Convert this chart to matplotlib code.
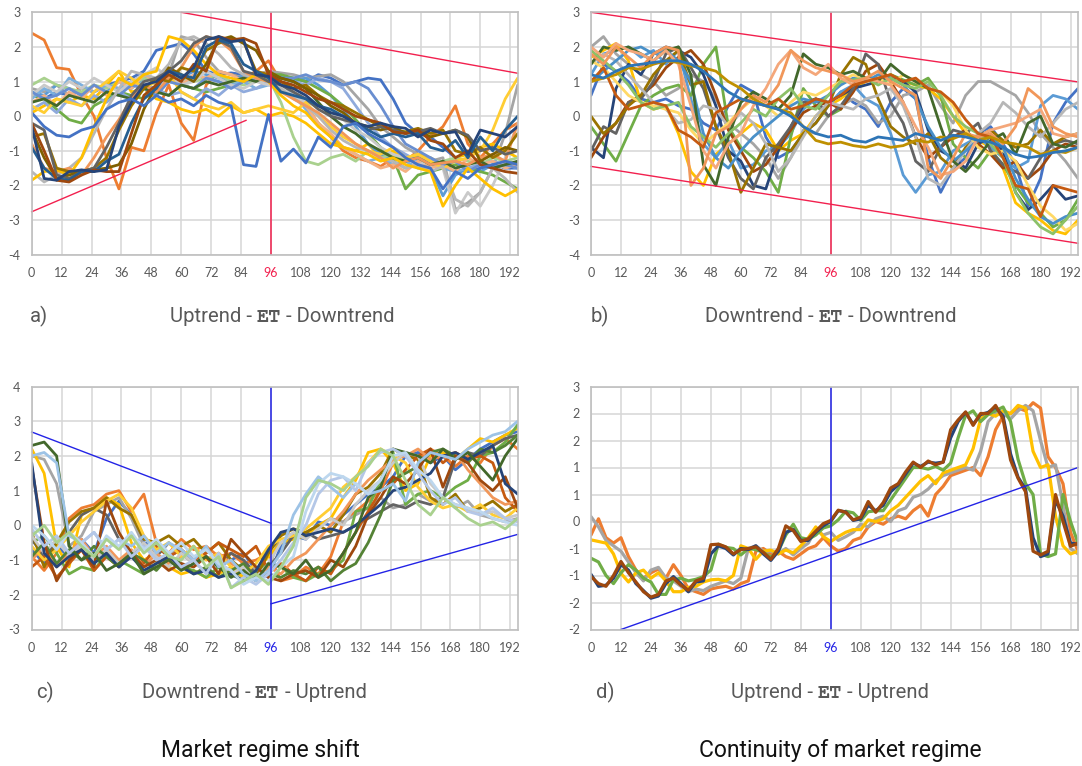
import numpy as np
import matplotlib
matplotlib.use("Agg")
import matplotlib.pyplot as plt
from matplotlib.offsetbox import TextArea, HPacker, AnnotationBbox
from matplotlib.ticker import FixedLocator, FixedFormatter

# ---------------------------------------------------------------
# Sample spacing (in 5-minute bars) of the stored paths
# ---------------------------------------------------------------
STEP_ABC = 5
STEP_D = 3
X_TICKS = list(range(0, 193, 12))
ET_BAR = 96

# ---------------------------------------------------------------
# a) Uptrend - ET - Downtrend
# ---------------------------------------------------------------
a_dkblue = [-0.3,-1.8,-1.85,-1.6,-1.55,-1.6,-1.55,-0.3,0.4,0.9, 1.0,1.3,1.1,1.4,2.2,2.3,2.15,2.2,1.2,1.15,
            0.9,0.8,0.6,0.3,0.1,0.0,-0.2,-0.3,-0.2,-0.3, -0.35,-0.6,-0.4,-0.5,-0.45,-1.1,-0.4,-0.5,-0.6,-0.3]
a_brown = [-0.2,-1.0,-1.85,-1.9,-1.7,-1.55,-1.6,-1.6,-0.5,0.6, 0.9,1.2,1.0,1.5,1.3,2.3,2.2,2.25,2.1,1.2,
           1.0,0.9,0.7,0.5,0.4,0.2,0.0,-0.1,-0.2,-0.45, -0.5,-0.4,-0.7,-0.8,-1.2,-1.0,-1.4,-1.5,-1.6,-1.65]
a_dkgold = [-0.6,-0.5,-1.5,-1.6,-1.6,-1.5,-1.2,-0.4,0.3,0.8, 1.1,1.0,1.4,1.3,1.9,2.1,2.25,2.15,1.3,1.2,
            1.0,0.8,0.9,0.6,0.4,0.3,0.1,-0.1,-0.3,-0.4, -0.45,-0.35,-0.5,-0.4,-1.0,-1.1,-0.9,-1.2,-1.0,-0.5]
a_dkgold2 = [-0.4,-1.2,-1.8,-1.7,-1.6,-1.55,-1.5,-1.4,-0.8,0.2, 0.9,1.4,1.2,1.0,1.5,2.2,2.3,2.1,1.9,1.3,
             1.1,1.0,0.8,0.6,0.3,0.1,-0.2,-0.3,-0.4,-0.3, -0.5,-0.4,-0.6,-0.5,-0.4,-0.6,-1.3,-1.1,-0.9,-1.0]
a_steel = [-0.9,-1.5,-1.8,-1.85,-1.6,-1.6,-1.3,-1.1,-0.2,0.5, 0.8,1.3,1.2,1.1,2.0,2.2,2.1,1.5,1.3,1.1,
           0.7,0.6,0.5,0.3,0.2,0.0,-0.2,-0.4,-0.6,-0.5, -0.6,-0.5,-0.9,-1.0,-0.7,-1.2,-0.6,-1.0,-0.4,0.0]
a_dkgray = [-0.2,-0.4,-1.7,-1.8,-1.6,-1.5,-0.9,-0.2,0.6,1.0, 1.1,1.3,1.6,2.1,2.3,2.2,2.0,1.3,1.2,1.0,
            0.9,0.7,0.5,0.2,0.0,-0.1,-0.2,-0.4,-0.3,-0.4, -0.5,-0.45,-0.35,-0.5,-0.4,-0.55,-1.0,-0.9,-1.1,-1.0]
a_ltorange = [-0.8,-1.5,-1.6,-1.5,-1.7,-1.2,-0.6,-0.1,0.5,0.9, 0.7,1.1,1.4,2.0,2.3,2.2,1.9,1.3,1.1,1.0,
              0.7,0.5,0.3,0.1,-0.2,-0.5,-0.8,-1.0,-1.2,-1.5, -1.3,-1.2,-1.4,-1.35,-1.3,-1.4,-1.2,-1.1,-1.3,-0.2]
a_ltgray = [-1.6,-1.9,-1.7,-1.5,-1.2,-0.5,0.2,0.8,1.3,1.2, 1.1,1.5,2.2,2.3,2.1,1.8,1.4,1.2,1.1,1.0,
            0.8,0.5,0.3,0.0,-0.4,-0.7,-0.9,-1.0,-1.2,-1.3, -1.5,-1.4,-1.6,-1.45,-2.4,-2.6,-2.2,-1.5,-1.8,-2.2]
a_gold = [-1.85,-1.6,-1.55,-1.7,-1.2,-0.3,0.5,1.1,0.9,1.2, 1.3,2.3,2.2,1.9,1.5,1.2,1.1,1.0,1.2,1.0,
          0.6,0.3,0.1,-0.3,-0.6,-0.9,-1.0,-1.1,-1.3,-1.2, -1.4,-1.5,-1.6,-2.6,-2.0,-1.5,-1.8,-2.1,-2.3,-2.1]
a_blue_dip = [0.1,-0.3,-0.55,-0.6,-0.4,-0.3,0.2,0.4,0.5,0.3, 0.6,0.4,0.5,0.3,0.6,0.4,0.3,-1.4,-1.45,0.05,
              -1.3,-0.95,-1.35,-0.6,-0.9,-0.3,-0.2,-0.5,-0.7,-0.9, -1.2,-1.4,-1.5,-2.1,-1.6,-1.8,-1.5,-1.4,-1.3,-1.4]
a_blue_late = [0.6,0.5,0.7,0.6,0.8,0.7,0.9,1.0,1.1,1.3, 1.9,2.0,2.1,1.8,1.3,1.2,1.25,1.2,1.1,1.2,
               1.15,1.1,1.0,1.2,1.1,0.9,1.0,1.1,1.05,0.5, -0.2,-0.5,-0.6,-0.9,-1.2,-1.6,-1.5,-1.4,-1.5,-1.5]
a_orange = [2.4,2.2,1.4,1.35,0.6,0.0,-1.2,-2.1,-0.9,-1.0, 0.1,0.9,-0.2,-0.7,0.9,1.3,1.2,1.1,1.3,1.6,
            1.0,0.6,0.3,-0.2,-0.6,-1.0,-1.2,-1.3,-1.45,-1.2, -1.3,-1.0,-0.6,-0.3,0.3,-0.8,-1.2,-0.8,-0.4,-0.2]
a_ltblue = [0.7,0.6,0.9,0.8,0.6,0.9,0.7,1.0,0.8,1.1, 1.0,1.2,1.1,1.3,1.2,1.1,1.0,1.2,1.1,1.2,
            1.15,1.0,1.1,0.9,0.6,0.2,-0.3,-0.8,-1.1,-1.3, -1.5,-1.4,-1.5,-2.3,-1.7,-1.5,-1.6,-1.4,-1.5,-1.3]
a_green = [0.6,0.5,0.2,-0.1,-0.2,0.3,0.5,0.7,0.6,0.5, 0.8,0.6,0.9,0.8,0.7,0.8,0.9,1.0,1.1,1.2,
           1.2,1.1,1.0,0.8,0.6,0.3,-0.1,-0.5,-0.9,-1.2, -2.1,-1.7,-1.6,-1.5,-1.4,-1.5,-1.6,-1.7,-1.9,-2.1]
a_gray = [0.8,0.7,0.9,0.6,0.8,0.7,0.9,0.8,1.0,1.2, 0.9,1.2,2.3,2.2,1.7,1.3,1.2,1.1,1.2,1.3,
          1.25,1.2,1.1,1.15,1.2,1.0,0.6,0.2,-0.3,-0.6, -0.9,-1.1,-1.3,-1.2,-2.7,-2.5,-2.2,-1.5,-0.5,0.9]
a_ltgray2 = [0.6,0.9,0.7,1.0,0.8,1.1,0.9,0.7,1.0,1.2, 1.4,1.1,0.9,1.0,1.3,1.1,0.9,0.8,1.0,0.9,
             0.8,0.6,0.4,0.3,0.1,-0.1,-0.4,-0.6,-0.9,-1.1, -1.2,-1.4,-1.3,-1.5,-2.8,-2.2,-2.6,-2.0,-1.2,-0.2]
a_gold2 = [0.1,0.3,0.5,0.4,0.6,0.5,0.9,1.3,0.7,0.8, 0.5,0.4,0.2,0.1,0.2,0.0,0.3,0.1,0.2,0.0,
           0.1,0.0,-0.2,-0.5,-0.8,-0.9,-1.0,-0.8,-1.2,-1.0, -1.3,-1.1,-1.2,-1.4,-1.2,-1.1,-0.9,-0.8,-1.0,-1.2]
a_ltgreen = [0.9,1.1,0.9,0.8,0.7,0.9,0.8,1.0,0.9,1.1, 1.0,1.2,1.1,1.0,1.1,1.2,1.0,0.9,1.0,1.1,
             0.4,-0.6,-1.3,-1.4,-1.2,-1.1,-1.3,-1.0,-1.2,-1.1, -1.3,-1.2,-1.4,-1.3,-1.2,-1.3,-1.4,-1.2,-1.3,-1.2]
a_paleblue = [0.5,0.8,0.6,1.1,0.9,0.7,0.9,0.8,1.0,0.9, 0.7,1.0,0.9,1.2,1.1,1.0,0.9,1.0,0.8,0.9,
              1.0,0.6,0.2,-0.2,-0.6,-0.9,-1.1,-1.3,-1.2,-1.4, -1.3,-1.5,-1.4,-1.5,-1.6,-1.5,-1.4,-1.5,-1.3,-1.4]
a_skyblue = [0.2,0.4,0.1,0.5,0.3,0.6,0.4,0.7,0.5,0.9, 0.8,0.6,0.7,0.5,0.8,0.6,0.9,0.7,0.8,1.0,
             1.1,1.0,0.9,1.1,1.0,0.8,0.3,-0.2,-0.6,-0.9, -1.1,-1.3,-1.2,-1.4,-1.3,-1.5,-1.4,-1.3,-1.4,-1.5]
a_ltgold = [0.3,0.1,0.5,0.4,0.3,0.7,1.0,1.3,1.1,0.8, 1.0,1.2,0.7,0.5,0.3,0.2,0.4,0.1,0.2,0.3,
            0.2,0.1,0.4,0.0,-0.3,-0.6,-0.8,-1.0,-1.1,-0.9, -1.2,-1.1,-1.3,-1.5,-1.3,-1.2,-1.0,-0.4,0.5,1.1]
a_peach = [0.4,0.6,0.3,0.7,0.5,0.9,0.6,1.0,0.8,1.2, 1.0,1.1,0.9,1.2,1.1,1.3,1.2,1.0,1.1,1.3,
           1.0,0.7,0.3,-0.2,-0.5,-0.9,-1.1,-1.3,-1.5,-1.4, -1.6,-1.3,-1.5,-1.4,-1.6,-1.2,-1.4,-1.3,-1.5,-1.4]
a_midblue = [0.7,0.5,0.6,0.8,0.6,0.9,0.7,0.6,0.9,0.8, 0.6,1.0,0.9,0.8,1.1,1.0,0.8,1.0,1.1,1.2,
             1.1,1.1,1.2,1.05,1.0,0.9,1.0,0.8,0.3,-0.3, -0.8,-1.0,-1.2,-1.4,-1.3,-1.6,-1.4,-1.5,-1.4,-1.5]
a_dkgreen = [0.4,0.5,0.3,0.6,0.5,0.4,0.7,0.6,0.5,0.8, 0.7,0.6,0.9,0.8,1.0,0.9,1.0,1.1,1.0,1.2,
             1.1,1.0,0.8,0.4,0.0,-0.3,-0.5,-0.8,-1.0,-1.2, -1.3,-1.2,-1.4,-1.3,-1.5,-1.4,-1.3,-1.5,-1.4,-1.3]

# ---------------------------------------------------------------
# b) Downtrend - ET - Downtrend
# ---------------------------------------------------------------
b_blue_smooth = [1.2,1.1,1.3,1.45,1.5,1.55,1.6,1.6,1.5,1.3, 1.0,0.7,0.5,0.4,0.3,0.2,0.0,-0.3,-0.5,-0.6,
                 -0.55,-0.7,-0.75,-0.6,-0.65,-0.7,-0.5,-0.6,-0.7,-0.55, -0.6,-0.7,-0.75,-0.9,-1.1,-1.2,-1.15,-1.05,-1.0,-0.9]
b_gold_smooth = [1.0,1.1,1.2,1.4,1.35,1.5,1.6,1.55,1.45,1.4, 1.3,1.0,0.8,0.5,0.3,0.2,0.1,-0.3,-0.7,-0.8,
                 -0.75,-0.85,-0.9,-0.8,-0.9,-0.85,-0.7,-0.75,-0.6,-0.65, -0.5,-0.7,-0.6,-0.75,-0.8,-0.9,-1.1,-1.0,-1.05,-0.9]
b_dkorange = [1.0,1.4,0.6,0.2,0.3,0.4,0.3,-0.4,-0.6,-0.9, 0.1,0.3,0.5,0.4,0.3,0.5,0.2,0.3,0.5,0.4,
              0.6,0.9,1.0,1.1,1.2,1.0,1.1,0.8,0.7,0.4, -0.1,-0.5,-0.6,-1.2,-2.0,-2.1,-2.9,-2.0,-2.1,-2.2]
b_green = [-0.3,-0.8,-1.3,-0.5,0.3,0.6,0.8,0.9,0.6,1.5, 2.0,-0.3,-0.9,-1.2,-1.6,-2.2,-0.6,0.8,0.3,0.0,
           0.2,0.8,1.1,1.0,1.2,1.05,0.9,1.1,0.6,-0.8, -1.2,-1.5,-1.0,-1.4,-2.0,-2.5,-2.8,-3.2,-3.0,-2.4]
b_ltorange = [1.8,1.5,2.0,1.7,1.4,1.8,2.0,1.9,-2.0,-1.5, -0.5,-0.3,0.2,0.6,0.4,0.9,1.9,1.6,1.4,1.3,
              1.2,1.0,1.1,1.3,1.0,0.8,0.6,-1.5,-1.8,-1.2, -0.5,-0.6,-0.5,-0.8,-0.3,0.8,0.5,-0.3,-0.5,-0.6]
b_dkgreen = [1.5,2.0,1.9,2.0,1.8,1.6,1.9,2.0,1.2,-1.4, -2.0,-0.6,0.4,0.7,0.5,0.2,0.6,1.8,1.5,1.4,
             1.2,1.3,1.1,1.0,1.5,1.2,1.0,0.8,-0.3,-1.3, -1.6,-1.2,-0.7,-0.5,-1.1,-0.2,0.0,-0.8,-0.9,-0.7]
b_gray = [2.0,2.3,1.8,1.5,1.2,1.0,0.6,0.8,1.2,1.0, 0.5,-0.2,-0.5,-0.8,-1.2,-1.8,-1.2,-0.4,-0.5,0.0,
          0.3,0.5,0.3,-0.2,0.0,0.6,0.7,0.9,0.3,-0.2, 0.6,1.0,1.0,0.8,0.6,0.1,-0.5,-0.9,-1.3,-1.8]
b_ltgray = [1.5,1.8,1.6,1.2,0.8,0.4,0.2,-0.2,-0.1,0.3, 0.2,-0.3,0.1,-0.2,-0.8,-1.6,-1.2,-0.6,0.0,0.4,
            0.3,0.2,0.5,0.6,0.8,0.3,-0.6,-1.8,-2.0,-1.5, -1.0,-0.5,-0.2,0.4,0.1,-0.3,-0.6,-0.2,0.2,0.4]
b_dkblue = [-0.9,-1.2,0.8,1.5,1.2,1.8,2.0,1.9,1.7,1.2, 0.3,-1.0,-1.3,-2.0,-2.1,-1.0,-0.3,0.3,0.5,0.4,
            0.6,0.8,0.9,1.0,1.1,1.0,0.7,-0.4,-1.0,-1.2, -1.5,-0.8,-0.6,-1.0,-2.2,-2.7,-2.4,-2.0,-2.4,-2.3]
b_ltblue = [1.2,1.8,1.9,2.0,1.7,1.9,1.5,1.9,0.5,-0.8, -1.2,-0.7,-1.5,-1.4,-1.0,-0.9,-0.5,0.2,0.5,0.3,
            0.7,0.9,0.5,0.3,-0.5,-1.7,-2.2,-1.7,-1.6,-1.0, -0.8,-0.6,-0.9,-1.2,-1.5,-1.3,0.3,0.6,0.5,0.2]
b_teal = [1.0,1.3,1.6,1.9,2.0,1.8,1.9,1.6,1.0,-0.5, -1.2,-1.5,-1.0,-0.6,-0.3,0.0,0.3,0.5,0.4,0.6,
          0.9,1.1,1.0,1.2,1.1,0.9,0.5,-0.3,-0.9,-1.3, -1.0,-0.7,-0.6,-0.9,-1.8,-2.4,-2.9,-3.1,-2.9,-2.8]
b_gold = [1.7,1.9,2.1,1.6,0.4,0.2,0.3,-0.5,-1.6,-2.0, -1.1,-0.8,-0.5,-0.2,-0.4,-1.0,-0.7,-0.5,0.0,0.3,
          0.5,0.8,1.0,1.1,1.2,1.0,0.9,0.8,0.5,0.0, -0.5,-0.7,-0.9,-1.5,-2.5,-2.8,-3.0,-3.3,-3.4,-3.0]
b_ltgold = [1.6,1.4,1.0,0.6,0.4,0.3,0.2,0.1,-0.4,-0.8, -0.5,-0.2,0.2,0.5,0.3,0.0,0.4,0.7,0.6,0.8,
            1.0,1.2,1.0,1.1,0.9,1.2,1.0,0.8,0.7,0.3, -0.4,-0.9,-1.1,-1.0,-1.3,-2.0,-2.6,-2.9,-3.3,-3.1]
b_ltgreen = [1.9,1.6,1.3,0.9,0.4,0.2,0.3,0.4,-0.3,-0.6, -0.9,-0.5,-0.2,0.2,0.0,0.5,0.8,0.3,0.2,0.6,
             1.0,1.05,1.1,0.9,1.1,0.9,0.8,1.0,0.6,0.0, -0.3,-0.5,-0.8,-1.2,-2.2,-2.8,-3.2,-3.4,-3.0,-2.6]
b_dkgray = [-1.0,-0.3,-0.5,0.4,0.5,1.0,1.8,2.0,1.4,0.8, -0.3,-1.2,-1.8,-2.1,-1.2,-0.8,-0.3,0.4,0.5,0.0,
            0.3,0.8,1.8,1.5,0.4,-0.2,-1.3,-1.6,-0.9,-0.4, -0.5,-0.2,-1.0,-1.4,-1.6,-1.8,-1.2,-0.8,-0.7,-0.8]
b_brown = [-1.2,-0.6,-0.2,0.4,0.6,0.9,1.4,1.7,1.9,1.5, 0.6,-0.4,-1.0,-1.6,-1.4,-0.9,-0.4,0.1,0.3,0.4,
           0.2,0.7,1.3,1.5,1.0,0.4,-0.6,-1.2,-0.9,-0.6, -0.4,-0.8,-1.1,-1.5,-1.3,-1.8,-1.5,-1.0,-0.8,-0.9]
b_blue = [0.6,1.5,1.3,1.0,0.5,0.4,0.5,0.3,0.2,-0.2, -0.4,0.3,0.9,0.7,-0.6,-1.2,-1.0,-0.5,-0.2,0.3,
          0.7,0.4,0.2,-0.3,0.4,0.8,0.5,-1.2,-2.2,-1.5, -1.2,-0.5,-0.3,-0.8,-1.4,-2.6,-1.8,-0.2,0.4,0.8]
b_dkgold = [0.0,-0.5,-0.2,0.3,0.6,1.2,1.6,1.9,0.9,1.0, -0.3,-1.0,-2.2,-1.5,-0.8,-0.9,-1.0,-0.5,-0.2,0.3,
            1.2,1.7,1.5,0.5,-0.3,-0.6,-0.8,-0.5,-1.2,-1.5, -0.9,-0.6,-0.4,-0.7,-0.9,-0.8,-0.4,-0.8,-0.6,-0.5]
b_peach = [2.0,1.7,2.1,1.9,1.8,1.6,1.9,1.5,0.3,-1.0, -1.5,-0.8,-0.5,0.3,0.8,1.5,1.9,1.4,1.2,1.5,
           1.1,0.9,1.1,1.0,0.9,0.4,-0.3,-0.9,-1.7,-1.6, -1.3,-0.6,-0.4,-0.3,-0.2,0.0,0.2,-0.5,-0.6,-0.5]

# ---------------------------------------------------------------
# c) Downtrend - ET - Uptrend
# ---------------------------------------------------------------
c_dkblue = [1.8,-0.8,-1.2,-0.9,-0.7,-1.1,-0.8,-1.2,-0.9,-1.3, -1.1,-0.9,-1.2,-1.4,-1.3,-1.5,-1.4,-1.6,-1.3,-0.7,
            -0.2,-0.1,-0.3,-0.2,-0.1,-0.2,0.0,0.3,0.6,1.0, 1.1,1.3,1.5,2.0,2.1,1.9,2.1,2.3,1.2,0.9]
c_dkgreen = [2.3,2.4,2.0,-0.6,-1.0,-0.8,-1.3,-1.1,-0.8,-1.4, -1.2,-1.0,-1.3,-1.1,-0.9,-1.2,-1.5,-1.3,-1.6,-1.1,
             -1.2,-1.4,-1.0,-1.5,-1.3,-0.8,-0.2,0.8,1.1,2.2, 2.1,2.0,1.8,2.2,1.9,2.1,1.7,1.3,2.0,2.5]
c_dkgreen2 = [-0.9,-0.5,-1.1,-0.7,-1.0,-0.6,-0.9,-1.2,-0.8,-1.0, -1.3,-0.9,-1.1,-1.4,-1.2,-1.5,-1.3,-1.1,-1.5,-1.4,
              -1.5,-1.3,-1.4,-1.2,-1.6,-1.3,-1.1,-0.5,0.3,1.3, 1.5,1.7,2.1,2.2,2.0,1.8,2.2,2.1,2.3,2.6]
c_brown = [1.7,-0.5,-1.6,-1.0,-0.7,-1.2,0.7,-0.2,-0.8,-1.2, -1.0,-1.3,-1.1,-1.2,-0.9,-1.4,-0.4,-0.8,-1.2,-1.5,
           -1.6,-1.4,-1.3,-1.5,-1.0,-1.2,-0.6,0.3,0.8,1.4, 1.2,1.6,2.2,1.1,2.0,1.8,1.3,1.0,1.4,0.5]
c_ltblue = [2.0,2.1,1.8,-0.3,-0.5,-0.2,-0.7,-0.4,-0.6,-0.3, -0.8,-0.5,-0.7,-1.0,-0.6,-1.2,-1.0,-1.4,-1.6,-1.3,
            -0.8,0.3,0.9,1.4,1.1,0.8,1.2,0.9,1.0,1.2, 0.7,1.8,2.1,2.0,1.9,2.2,2.4,2.6,2.7,3.0]
c_gold = [2.2,1.5,-0.6,-1.2,0.3,0.5,0.8,0.6,-0.5,-1.0, -0.8,-1.2,-1.4,-1.3,-1.5,-1.4,-1.2,-1.5,-1.3,-0.9,
          -0.5,-0.4,-0.3,0.0,0.2,0.8,1.3,2.1,2.2,1.8, 1.0,1.2,2.0,2.1,1.9,2.2,2.5,2.4,2.6,2.8]
c_gold2 = [-0.6,-1.0,-0.7,-0.3,0.1,0.4,0.7,0.9,0.5,-0.3, -0.7,-0.5,-0.9,-0.6,-1.0,-0.8,-1.2,-1.4,-1.1,-0.6,
           -0.4,-0.3,-0.1,0.2,0.5,1.1,1.4,1.8,2.2,2.0, 1.8,1.1,0.7,0.5,0.6,0.4,0.6,0.3,0.2,0.5]
c_gray = [2.0,1.9,1.2,-0.6,-0.3,0.4,0.6,0.8,0.2,-0.6, -0.5,-0.8,-0.7,-1.0,-0.9,-1.1,-1.3,-1.5,-1.2,-1.3,
          -0.2,-0.3,-0.2,0.0,0.2,0.1,0.3,0.5,0.8,0.5, 0.6,0.9,0.7,0.8,0.5,0.7,0.3,0.2,0.1,0.2]
c_ltgray = [-0.3,-0.8,-0.4,-0.9,-0.6,-1.0,-0.7,-1.1,-0.8,-0.5, -0.9,-1.2,-0.8,-1.1,-1.3,-1.0,-1.4,-1.2,-1.5,-1.1,
            -0.5,-0.2,-0.4,-0.1,0.2,0.0,0.6,1.0,1.3,1.8, 2.1,2.0,1.2,0.8,0.6,0.5,0.3,0.4,0.2,0.3]
c_orange = [-0.9,-1.3,-0.8,0.2,0.5,0.6,0.9,1.0,0.4,0.9, -0.5,-0.8,-0.4,-0.7,-0.6,-0.9,-0.8,-1.1,-1.0,-0.8,
            -1.6,-1.5,-1.2,-1.4,-0.9,0.1,0.4,0.7,1.0,1.8, 2.1,1.9,2.2,2.0,1.7,2.0,1.8,2.3,2.5,2.2]
c_ltorange = [-1.0,-0.6,-1.2,-0.8,-0.4,-0.9,-0.6,-1.0,-0.7,-1.2, -0.8,-1.1,-0.9,-0.6,-1.0,-0.8,-1.1,-1.3,-1.5,-1.2,
              -1.4,-1.0,-0.8,-0.4,0.0,0.4,0.9,1.3,1.6,1.9, 2.0,2.2,1.9,2.0,2.1,1.6,1.2,0.8,0.6,0.7]
c_dkgold = [-0.2,-1.2,-0.5,0.1,0.4,0.5,0.8,0.5,0.3,-0.4, -0.5,-0.3,-0.6,-0.4,-0.8,-0.5,-1.0,-1.3,-1.5,-0.8,
            -0.3,-0.1,-0.2,0.0,-0.2,0.3,0.9,1.1,1.5,2.2, 2.0,1.9,0.8,0.6,0.9,0.4,0.5,0.7,0.4,0.6]
c_green = [-0.5,-0.3,-0.8,-1.4,-1.2,-1.3,-0.8,-1.0,-1.2,-1.4, -1.1,-0.9,-1.2,-1.3,-1.5,-1.2,-1.4,-1.6,-1.3,-1.1,
           -1.2,-1.5,-1.6,-1.4,-1.3,-1.0,0.4,0.5,1.3,2.1, 0.6,0.9,1.0,0.8,1.1,1.3,2.0,2.1,2.4,2.9]
c_ltgreen = [-0.3,0.0,-0.5,-0.2,-0.6,-0.9,-0.4,-0.7,-0.3,-0.8, -0.5,-0.9,-1.0,-0.6,-1.2,-0.9,-1.8,-1.6,-1.4,-1.7,
             -1.2,-0.6,0.8,1.3,1.2,1.0,1.4,1.7,2.2,2.0, 1.3,0.6,0.3,0.8,0.5,0.2,0.0,0.1,-0.1,0.2]
c_paleblue = [-0.1,-0.6,-0.3,-0.8,-0.5,-0.2,-0.7,-0.4,-0.9,-0.6, -1.0,-0.8,-1.2,-1.0,-1.4,-0.8,-1.8,-1.5,-1.7,-1.4,
              -1.0,-0.5,0.0,0.9,1.3,1.4,1.0,1.8,2.1,2.2, 2.0,1.5,1.0,0.6,0.8,0.4,0.3,0.5,0.2,0.1]
c_paleblue2 = [0.0,-0.3,-0.7,-0.2,-0.5,-0.9,-0.3,-0.6,-0.2,-0.7, -0.4,-0.8,-0.5,-0.9,-0.7,-1.1,-1.3,-1.7,-1.5,-1.6,
               -1.2,-0.9,0.4,1.2,1.5,1.4,1.2,0.9,1.3,2.0, 2.1,1.6,1.3,0.8,0.6,0.5,0.4,0.2,0.1,0.0]
c_dkorange = [-1.2,-0.9,-1.5,-1.1,-0.7,-1.3,-0.9,-1.2,-0.8,-1.1, -0.6,-0.9,-0.7,-1.0,-0.8,-0.5,-0.7,-0.9,-0.6,-1.3,
              -1.1,-1.4,-1.6,-1.2,-1.4,-0.8,-0.2,0.4,1.0,1.2, 1.6,2.0,2.2,1.8,2.1,1.9,2.0,1.8,0.8,0.4]
c_blue = [-0.7,-1.1,-0.6,-0.9,-0.4,-0.8,0.2,0.7,0.3,-0.5, -0.6,-0.9,-0.7,-1.1,-0.9,-1.2,-1.0,-0.8,-1.3,-1.5,
          -0.6,-0.3,-0.4,0.1,0.0,0.3,0.6,0.9,1.1,1.4, 2.0,2.1,1.8,2.0,1.6,1.9,2.2,2.4,2.6,2.7]
c_dkgray = [-0.4,-0.9,-0.5,-0.2,0.3,0.5,0.3,-0.4,-0.8,-0.6, -0.9,-0.5,-0.8,-1.1,-0.9,-1.2,-0.8,-1.0,-1.4,-1.2,
            -0.8,-0.3,-0.2,-0.4,-0.3,-0.2,0.0,0.2,0.4,0.6, 0.5,0.7,0.6,0.8,1.9,2.1,2.0,2.3,2.5,2.6]

# ---------------------------------------------------------------
# d) Uptrend - ET - Uptrend
# ---------------------------------------------------------------
d_orange = [-0.25,0.05,-0.3,-0.4,-0.3,-0.65,-0.9,-1.05,-0.95,-0.88, -1.05,-0.8,-1.0,-1.25,-1.3,-1.35,-1.25,-1.22,-1.2,-1.25,
            -1.15,-1.1,-0.55,-0.5,-0.6,-0.55,-0.65,-0.7,-0.6,-0.5, -0.45,-0.3,-0.45,-0.55,-0.5,-0.35,-0.3,-0.1,0.0,-0.05,
            0.05,0.1,0.05,0.2,0.3,0.1,0.5,0.65,0.85,0.9, 0.95,1.0,0.85,1.2,1.7,1.95,2.0,2.1,2.05,2.2,
            2.1,1.2,1.0,0.7,-0.2,-0.55]
d_gray = [0.09,-0.1,-0.35,-0.45,-0.55,-0.75,-0.95,-1.1,-0.9,-0.85, -1.05,-1.1,-1.2,-1.3,-1.25,-1.28,-1.2,-1.15,-1.1,-1.15,
          -1.05,-0.5,-0.45,-0.55,-0.55,-0.6,-0.5,-0.62,-0.5,-0.4, -0.15,-0.25,-0.2,-0.35,-0.28,-0.2,-0.05,-0.1,0.05,0.1,
          0.0,0.2,0.25,0.45,0.5,0.6,0.75,0.85,0.9,0.95, 1.0,0.95,1.3,1.85,2.0,2.0,1.9,2.05,2.15,2.05,
          1.5,1.0,1.05,0.3,-0.5,-0.6]
d_gold = [-0.34,-0.37,-0.4,-0.6,-0.96,-1.12,-0.95,-0.9,-1.05,-0.95, -1.1,-1.3,-1.3,-1.22,-1.2,-1.12,-1.08,-1.07,-1.1,-1.0,
          -0.45,-0.5,-0.7,-0.55,-0.53,-0.6,-0.53,-0.58,-0.45,-0.3, -0.1,-0.28,-0.37,-0.28,-0.2,-0.15,-0.15,0.03,0.0,0.05,
          0.2,0.3,0.45,0.6,0.75,0.85,0.7,0.9,0.95,1.0, 1.05,1.35,1.9,2.0,1.95,2.05,2.0,2.15,2.1,1.3,
          1.0,1.05,0.1,-0.45,-0.6,-0.55]
d_green = [-0.68,-0.75,-1.0,-1.15,-0.95,-0.8,-0.9,-1.05,-1.12,-1.35, -1.35,-1.08,-1.05,-1.1,-1.07,-1.02,-0.9,-0.42,-0.48,-0.5,
           -0.62,-0.5,-0.52,-0.57,-0.66,-0.55,-0.25,-0.05,-0.3,-0.33, -0.25,-0.12,-0.08,0.03,0.19,0.16,0.02,0.18,0.2,0.2,
           0.4,0.6,0.8,1.0,1.0,0.97,1.02,0.95,1.08,1.55, 1.97,2.05,1.85,1.98,2.05,2.12,1.85,1.15,0.7,0.5,
           -0.6,-0.65,-0.6,0.5,0.0,-0.4]
d_navy = [-0.98,-1.2,-1.18,-1.05,-0.8,-0.9,-1.15,-1.28,-1.42,-1.38, -1.15,-1.02,-1.15,-1.3,-1.12,-1.1,-0.6,-0.45,-0.5,-0.62,
          -0.5,-0.52,-0.45,-0.6,-0.72,-0.55,-0.2,-0.15,-0.35,-0.35, -0.2,-0.08,0.0,0.2,0.18,0.02,0.05,0.3,0.2,0.3,
          0.55,0.68,0.88,1.08,1.02,1.1,1.08,1.1,1.55,1.85, 2.02,1.8,1.98,2.02,2.12,1.95,1.25,0.82,0.6,-0.3,
          -0.65,-0.6,0.4,0.1,-0.4,-0.42]
d_brown = [-1.02,-1.15,-1.2,-1.0,-0.74,-0.95,-1.12,-1.3,-1.4,-1.35, -1.1,-1.05,-1.18,-1.27,-1.1,-1.05,-0.43,-0.42,-0.47,-0.6,
           -0.52,-0.5,-0.47,-0.57,-0.7,-0.5,-0.08,-0.17,-0.37,-0.32, -0.18,-0.04,0.02,0.21,0.17,0.03,0.08,0.37,0.17,0.35,
           0.62,0.7,0.92,1.1,1.0,1.12,1.05,1.1,1.7,1.88, 2.03,1.78,2.0,2.0,2.15,1.9,1.14,0.8,0.55,-0.55,
           -0.62,-0.55,0.5,0.0,-0.46,-0.4]

# Channel / trend guide lines: (x0, y0, x1, y1)
a_guides = [(60, 3.0, 195, 1.24), (0, -2.76, 86, -0.12)]
b_guides = [(0, 3.0, 195, 0.99), (0, -1.45, 195, -3.67)]
c_guides = [(0, 2.69, 96, 0.06), (96, -2.26, 195, -0.26)]
d_guides = [(12, -2.0, 195, 1.0)]

RED = "#F2204E"
BLUE = "#2323E6"
TICK_GRAY = "#595959"

panel_a = [(a_blue_late, "#4472C4"), (a_orange, "#ED7D31"), (a_gray, "#A5A5A5"), (a_gold2, "#FFC000"),
           (a_ltblue, "#5B9BD5"), (a_green, "#70AD47"), (a_ltgreen, "#A9D18E"), (a_paleblue, "#7CAFDD"),
           (a_skyblue, "#8FAADC"), (a_peach, "#F4B183"), (a_ltgray2, "#C9C9C9"),
           (a_ltgold, "#FFCD33"), (a_midblue, "#698ED0"), (a_dkgreen, "#43682B"),
           (a_ltgray, "#B7B7B7"), (a_ltorange, "#F1975A"), (a_gold, "#FFC000"),
           (a_dkgold, "#997300"), (a_dkgold2, "#7F6000"), (a_dkgray, "#636363"), (a_steel, "#255E91"),
           (a_brown, "#9E480E"), (a_dkblue, "#264478"), (a_blue_dip, "#4472C4")]
panel_b = [(b_blue, "#4472C4"), (b_gray, "#A5A5A5"), (b_gold, "#FFC000"), (b_ltblue, "#5B9BD5"),
           (b_green, "#70AD47"), (b_dkblue, "#264478"), (b_brown, "#9E480E"), (b_dkgray, "#636363"),
           (b_dkgold, "#997300"), (b_ltgray, "#B7B7B7"), (b_ltgold, "#FFD966"), (b_teal, "#4A90C8"),
           (b_dkgreen, "#43682B"), (b_ltgreen, "#8CC168"), (b_peach, "#F4A77A"), (b_ltorange, "#F1975A"),
           (b_dkorange, "#C55A11"), (b_gold_smooth, "#BF9000"), (b_blue_smooth, "#2E75B6")]
panel_c = [(c_blue, "#4472C4"), (c_orange, "#ED7D31"), (c_gray, "#A5A5A5"), (c_gold, "#FFC000"),
           (c_green, "#70AD47"), (c_dkgray, "#636363"), (c_dkgold, "#997300"), (c_dkorange, "#C55A11"),
           (c_ltorange, "#F1975A"), (c_gold2, "#FFCD33"), (c_ltgray, "#C9C9C9"), (c_dkgreen2, "#548235"),
           (c_brown, "#9E480E"), (c_dkblue, "#264478"), (c_dkgreen, "#43682B"), (c_ltblue, "#9DC3E6"),
           (c_paleblue, "#B4C7E7"), (c_paleblue2, "#BDD7EE"), (c_ltgreen, "#A9D18E")]
panel_d = [(d_orange, "#ED7D31"), (d_gray, "#A5A5A5"), (d_gold, "#FFC000"),
           (d_green, "#70AD47"), (d_navy, "#264478"), (d_brown, "#9E480E")]

TICK_FONT = ["Lato", "DejaVu Sans"]
TITLE_FONT = ["Roboto", "DejaVu Sans"]
MONO_FONT = ["Courier New", "Nimbus Mono PS", "FreeMono", "Liberation Mono", "DejaVu Sans Mono"]

W, H = 1082, 766
fig = plt.figure(figsize=(W / 100, H / 100), dpi=100)


def excel_round(v):
    r = int(np.floor(abs(v) + 0.5))
    return str(r if v >= 0 or r == 0 else -r)


def draw_panel(rect_px, series, step, ylim, yticks, accent, guides, lw):
    left, top, right, bottom = rect_px
    ax = fig.add_axes([left / W, 1 - bottom / H, (right - left) / W, (bottom - top) / H])
    ax.set_xlim(0, 195)
    ax.set_ylim(*ylim)
    ax.xaxis.set_major_locator(FixedLocator(X_TICKS))
    ax.xaxis.set_major_formatter(FixedFormatter([str(t) for t in X_TICKS]))
    ax.yaxis.set_major_locator(FixedLocator(yticks))
    ax.yaxis.set_major_formatter(FixedFormatter([excel_round(t) for t in yticks]))
    ax.grid(True, color="#D6D6D6", lw=1.1)
    ax.set_axisbelow(True)
    for sp in ax.spines.values():
        sp.set_color("#BFBFBF")
        sp.set_linewidth(1.2)
    ax.tick_params(length=0, labelsize=9, labelcolor=TICK_GRAY)
    ax.tick_params(axis="x", pad=9)
    ax.tick_params(axis="y", pad=8)
    for lab in ax.get_xticklabels() + ax.get_yticklabels():
        lab.set_family(TICK_FONT)
    for lab in ax.get_xticklabels():
        if lab.get_text() == str(ET_BAR):
            lab.set_color(accent)

    for vals, col in series:
        xs = step * np.arange(len(vals))
        ax.plot(xs, vals, color=col, lw=lw, solid_joinstyle="round", solid_capstyle="round")

    for x0, y0, x1, y1 in guides:
        ax.plot([x0, x1], [y0, y1], color=accent, lw=1.0, clip_on=False)
    ax.axvline(ET_BAR, color=accent, lw=1.1)
    return ax


draw_panel((31.7, 12.3, 517.7, 254.7), panel_a, STEP_ABC, (-4, 3), list(range(-4, 4)), RED, a_guides, 2.0)
draw_panel((591, 12.3, 1078, 254.7), panel_b, STEP_ABC, (-4, 3), list(range(-4, 4)), RED, b_guides, 2.0)
draw_panel((31.7, 386.5, 517.7, 629.5), panel_c, STEP_ABC, (-3, 4), list(range(-3, 5)), BLUE, c_guides, 2.0)
draw_panel((591, 386.5, 1078, 629.5), panel_d, STEP_D, (-2, 2.5), [-2 + 0.5 * i for i in range(10)], BLUE, d_guides, 2.3)


def caption(cx, cy, left_txt, right_txt, size=14.6):
    parts = [
        TextArea(left_txt, textprops=dict(family=TITLE_FONT, size=size, color=TICK_GRAY)),
        TextArea("ET", textprops=dict(family=MONO_FONT, size=size, weight="bold", color=TICK_GRAY)),
        TextArea(right_txt, textprops=dict(family=TITLE_FONT, size=size, color=TICK_GRAY)),
    ]
    box = HPacker(children=parts, align="baseline", pad=0, sep=0)
    ab = AnnotationBbox(box, (cx / W, 1 - cy / H), xycoords="figure fraction",
                        frameon=False, box_alignment=(0.5, 0.5), pad=0)
    fig.add_artist(ab)


def label(x, y, s, size=14.6, color=TICK_GRAY, ha="left"):
    fig.text(x / W, 1 - y / H, s, ha=ha, va="center", family=TITLE_FONT, size=size, color=color)


label(30, 316, "a)")
caption(282, 316, "Uptrend - ", " - Downtrend")
label(591, 316, "b)")
caption(831, 316, "Downtrend - ", " - Downtrend")
label(36, 692, "c)")
caption(254, 692, "Downtrend - ", " - Uptrend")
label(596, 692, "d)")
caption(830, 692, "Uptrend - ", " - Uptrend")
label(260, 751, "Market regime shift", size=16.5, color="#111111", ha="center")
label(840, 751, "Continuity of market regime", size=16.5, color="#111111", ha="center")

fig.savefig("out.png", dpi=100)
